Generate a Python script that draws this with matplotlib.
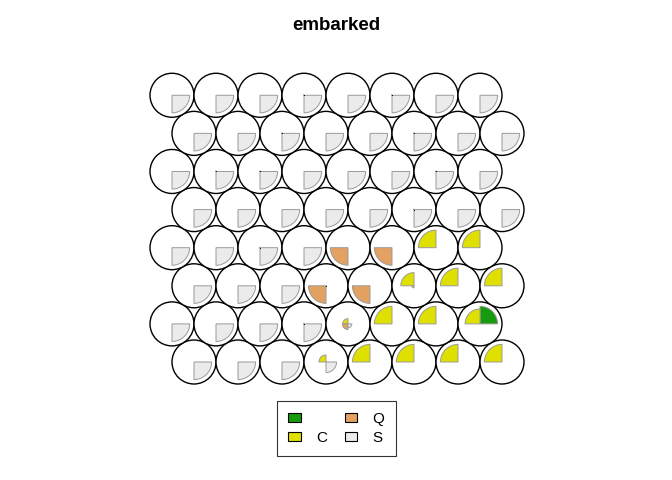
import numpy as np
import matplotlib
matplotlib.use("Agg")
import matplotlib.pyplot as plt
from matplotlib.patches import Circle, Wedge, Rectangle

plt.rcParams['font.family'] = ['Liberation Sans', 'DejaVu Sans']

title = "embarked"
categories = ["", "C", "Q", "S"]
colors = ["#179A0D", "#E0E000", "#E3A162", "#EBEBEB"]

# unit values per row, bottom row first (8 rows x 8 columns)
blank = [
    [0, 0, 0, 0, 0, 0, 0, 0],
    [0, 0, 0, 0, 0, 0, 0, 1.0],
    [0, 0, 0, 0, 0, 0, 0, 0],
    [0, 0, 0, 0, 0, 0, 0, 0],
    [0, 0, 0, 0, 0, 0, 0, 0],
    [0, 0, 0, 0, 0, 0, 0, 0],
    [0, 0, 0, 0, 0, 0, 0, 0],
    [0, 0, 0, 0, 0, 0, 0, 0],
]
c_vals = [
    [0, 0, 0, 0.40, 1.0, 1.0, 1.0, 1.0],
    [0, 0, 0, 0.03, 0.30, 1.0, 1.0, 0.85],
    [0, 0, 0, 0, 0, 0.75, 1.0, 1.0],
    [0, 0, 0.03, 0, 0, 0, 1.0, 1.0],
    [0, 0, 0, 0, 0, 0.03, 0, 0],
    [0, 0.03, 0.03, 0, 0, 0, 0.03, 0],
    [0, 0, 0.03, 0, 0, 0.03, 0, 0],
    [0, 0, 0, 0.03, 0, 0.03, 0, 0],
]
q_vals = [
    [0, 0, 0, 0, 0, 0, 0, 0],
    [0, 0, 0, 0, 0.32, 0, 0, 0],
    [0, 0, 0, 1.0, 1.0, 0.12, 0, 0],
    [0, 0, 0, 0, 1.0, 1.0, 0, 0],
    [0, 0, 0, 0, 0, 0, 0, 0],
    [0, 0, 0, 0, 0, 0, 0, 0],
    [0, 0, 0, 0, 0, 0, 0, 0],
    [0, 0, 0, 0, 0, 0, 0, 0],
]
s_vals = [
    [1.0, 1.0, 1.0, 0.60, 0, 0, 0, 0],
    [1.0, 1.0, 1.0, 1.0, 0.22, 0, 0, 0],
    [1.0, 1.0, 1.0, 0.03, 0, 0, 0, 0],
    [1.0, 1.0, 1.0, 1.0, 0, 0, 0, 0],
    [1.0, 1.0, 1.0, 1.0, 1.0, 1.0, 1.0, 1.0],
    [1.0, 1.0, 1.0, 1.0, 1.0, 1.0, 1.0, 1.0],
    [1.0, 1.0, 1.0, 1.0, 1.0, 1.0, 1.0, 1.0],
    [1.0, 1.0, 1.0, 1.0, 1.0, 1.0, 1.0, 1.0],
]

series = [blank, c_vals, q_vals, s_vals]

fig = plt.figure(figsize=(6.72, 4.8), dpi=100)
ax = fig.add_axes([0, 0, 1, 1])
ppu = 44.0
ax.set_xlim(-172 / ppu, (672 - 172) / ppu)
ax.set_ylim(-118 / ppu, (480 - 118) / ppu)
ax.set_aspect('equal')
ax.axis('off')

nrow, ncol = 8, 8
max_len = 0.4
for r in range(nrow):
    for c in range(ncol):
        x = c + (0.5 if r % 2 == 0 else 0.0)
        y = r * np.sqrt(3) / 2
        ax.add_patch(Circle((x, y), 0.5, facecolor='white', edgecolor='black',
                            linewidth=1.0, zorder=1))
        for k in range(4):
            v = series[k][r][c]
            if v <= 0:
                continue
            ax.add_patch(Wedge((x, y), max_len * v, 90 * k, 90 * (k + 1),
                               facecolor=colors[k], edgecolor='#9A9A9A',
                               linewidth=0.7, zorder=2))
            if v < 0.06:
                ax.plot([x], [y], marker='o', markersize=0.8, markeredgewidth=0,
                        color='black', zorder=3)

fig.text(0.5, 1 - 25 / 480, title, ha='center', va='center',
         fontsize=13.5, fontweight='bold')

handles = [Rectangle((0, 0), 1, 1, facecolor=col, edgecolor='black', linewidth=0.8)
           for col in colors]
leg = fig.legend(handles, categories, ncol=2, loc='center',
                 bbox_to_anchor=(336.5 / 672, 1 - 428.5 / 480),
                 frameon=True, fancybox=False, edgecolor='black',
                 fontsize=11, handlelength=0.8, handleheight=0.5,
                 columnspacing=1.2, handletextpad=1.0, labelspacing=0.3,
                 borderpad=0.75, borderaxespad=0)
leg.get_frame().set_linewidth(0.8)

fig.savefig("out.png", dpi=100)
